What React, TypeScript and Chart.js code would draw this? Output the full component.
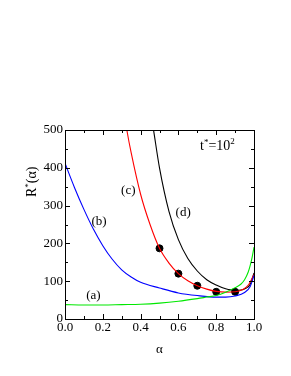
import React, { useEffect, useRef } from "react";
import { Chart, registerables } from "chart.js";

Chart.register(...registerables);

// (a) green
const alphaA = [0, 0.1, 0.2, 0.3, 0.4, 0.5, 0.6, 0.7, 0.75, 0.8, 0.85, 0.9, 0.93, 0.95, 0.97, 0.98, 0.99, 1.0];
const valuesA = [38, 37, 37, 38, 39, 42, 47, 54, 58, 62, 71, 83, 92, 104, 125, 142, 163, 190];
// (b) blue
const alphaB = [0, 0.05, 0.1, 0.15, 0.2, 0.25, 0.3, 0.35, 0.4, 0.5, 0.6, 0.7, 0.8, 0.85, 0.9, 0.95, 0.98, 1.0];
const valuesB = [412, 348, 290, 238, 194, 158, 130, 111, 97, 82, 69, 62, 58, 58, 61, 70, 86, 115];
// (c) red
const alphaC = [0.3, 0.33, 0.35, 0.4, 0.45, 0.5, 0.55, 0.6, 0.65, 0.7, 0.75, 0.8, 0.85, 0.9, 0.94, 0.97, 1.0];
const valuesC = [590, 492, 440, 330, 250, 187, 148, 120, 101, 88, 79, 73, 71, 72, 78, 90, 118];
// (d) black
const alphaD = [0.44, 0.47, 0.5, 0.55, 0.6, 0.65, 0.7, 0.75, 0.8, 0.85, 0.88, 0.92, 0.96, 0.98, 1.0];
const valuesD = [590, 495, 400, 285, 210, 160, 127, 104, 90, 80, 77, 76, 82, 92, 122];
// filled markers
const dotAlpha = [0.5, 0.6, 0.7, 0.8, 0.9];
const dotValues = [187, 120, 88, 72, 72];

const xTickValues = [0, 0.2, 0.4, 0.6, 0.8, 1.0];
const yTickValues = [0, 100, 200, 300, 400, 500];

const curveLabels = [
  { text: "(a)", a: 0.15, v: 62 },
  { text: "(b)", a: 0.18, v: 257 },
  { text: "(c)", a: 0.335, v: 339 },
  { text: "(d)", a: 0.625, v: 282 },
];

const pts = (xs: number[], ys: number[]) => xs.map((x, i) => ({ x, y: ys[i] }));

const FONT = "'Liberation Serif', 'Times New Roman', serif";

export default function App() {
  const ref = useRef<HTMLCanvasElement | null>(null);

  useEffect(() => {
    if (!ref.current) return;

    const decor = {
      id: "decor",
      afterDatasetsDraw(chart: any) {
        const { ctx, chartArea: ca, scales } = chart;
        const xs = scales.x;
        const ys = scales.y;
        ctx.save();
        ctx.strokeStyle = "#000";
        ctx.lineWidth = 1;
        // frame
        ctx.strokeRect(Math.round(ca.left) + 0.5, Math.round(ca.top) + 0.5, Math.round(ca.right - ca.left), Math.round(ca.bottom - ca.top));
        ctx.beginPath();
        for (let i = 0; i <= 10; i++) {
          const v = i / 10;
          const px = Math.round(xs.getPixelForValue(v)) + 0.5;
          const len = i % 2 === 0 ? 5 : 3;
          ctx.moveTo(px, ca.bottom);
          ctx.lineTo(px, ca.bottom - len);
          ctx.moveTo(px, ca.top);
          ctx.lineTo(px, ca.top + len);
        }
        for (let i = 0; i <= 10; i++) {
          const v = i * 50;
          const py = Math.round(ys.getPixelForValue(v)) + 0.5;
          const len = i % 2 === 0 ? 5 : 3;
          ctx.moveTo(ca.left, py);
          ctx.lineTo(ca.left + len, py);
          ctx.moveTo(ca.right, py);
          ctx.lineTo(ca.right - len, py);
        }
        ctx.stroke();

        ctx.fillStyle = "#000";
        ctx.textBaseline = "middle";
        ctx.textAlign = "center";
        ctx.font = `13px ${FONT}`;
        for (const l of curveLabels) {
          ctx.fillText(l.text, xs.getPixelForValue(l.a), ys.getPixelForValue(l.v));
        }

        // t*=10^2
        ctx.textAlign = "left";
        ctx.textBaseline = "alphabetic";
        let x = 200;
        const base = 150;
        ctx.font = `14px ${FONT}`;
        ctx.fillText("t", x, base);
        x += ctx.measureText("t").width;
        ctx.font = `9px ${FONT}`;
        ctx.fillText("*", x, base - 5);
        x += ctx.measureText("*").width;
        ctx.font = `14px ${FONT}`;
        ctx.fillText("=10", x, base);
        x += ctx.measureText("=10").width;
        ctx.font = `9px ${FONT}`;
        ctx.fillText("2", x, base - 6);

        // x title
        ctx.font = `13px ${FONT}`;
        ctx.textAlign = "center";
        ctx.textBaseline = "middle";
        ctx.fillText("α", (ca.left + ca.right) / 2, 350);

        // y title
        ctx.save();
        ctx.translate(36, 197);
        ctx.rotate(-Math.PI / 2);
        ctx.textAlign = "left";
        ctx.textBaseline = "alphabetic";
        let yx = 0;
        ctx.font = `14px ${FONT}`;
        ctx.fillText("R", yx, 0);
        yx += ctx.measureText("R").width;
        ctx.font = `9px ${FONT}`;
        ctx.fillText("*", yx, -5);
        yx += ctx.measureText("*").width;
        ctx.font = `14px ${FONT}`;
        ctx.fillText("(α)", yx, 0);
        ctx.restore();

        ctx.restore();
      },
    };

    const lineDs = (xs: number[], ys: number[], color: string) => ({
      type: "line" as const,
      data: pts(xs, ys),
      borderColor: color,
      backgroundColor: color,
      borderWidth: 1.1,
      pointRadius: 0,
      fill: false,
      cubicInterpolationMode: "monotone" as const,
    });

    const chart = new Chart(ref.current, {
      type: "line",
      data: {
        datasets: [
          lineDs(alphaA, valuesA, "#00e800"),
          lineDs(alphaB, valuesB, "#0000ff"),
          lineDs(alphaC, valuesC, "#ff0000"),
          lineDs(alphaD, valuesD, "#000000"),
          {
            type: "scatter" as const,
            data: pts(dotAlpha, dotValues),
            backgroundColor: "#000",
            borderColor: "#000",
            pointRadius: 3.5,
            showLine: false,
          } as any,
        ],
      },
      options: {
        responsive: false,
        animation: false,
        events: [],
        layout: { padding: { top: 130, right: 37, left: 0, bottom: 0 } },
        plugins: { legend: { display: false }, tooltip: { enabled: false } },
        scales: {
          x: {
            type: "linear",
            min: 0,
            max: 1,
            afterBuildTicks: (s: any) => {
              s.ticks = xTickValues.map((v) => ({ value: v }));
            },
            ticks: {
              color: "#000",
              font: { family: FONT, size: 13 },
              padding: 1,
              maxRotation: 0,
              autoSkip: false,
              callback: (v: any) => Number(v).toFixed(1),
            },
            grid: { display: false, drawTicks: false },
            border: { display: false },
            afterFit: (s: any) => {
              s.height = 57;
            },
          },
          y: {
            type: "linear",
            min: 0,
            max: 500,
            afterBuildTicks: (s: any) => {
              s.ticks = yTickValues.map((v) => ({ value: v }));
            },
            ticks: {
              color: "#000",
              font: { family: FONT, size: 13 },
              padding: 2,
              autoSkip: false,
              callback: (v: any) => String(v),
            },
            grid: { display: false, drawTicks: false },
            border: { display: false },
            afterFit: (s: any) => {
              s.width = 65;
            },
          },
        },
      },
      plugins: [decor],
    });

    return () => chart.destroy();
  }, []);

  return (
    <div style={{ position: "fixed", left: 0, top: 0, width: 291, height: 376, background: "#fff" }}>
      <canvas ref={ref} width={291} height={376} style={{ display: "block" }} />
    </div>
  );
}
